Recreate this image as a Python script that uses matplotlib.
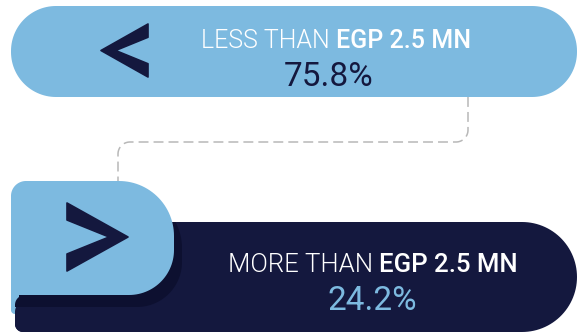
import numpy as np
import matplotlib
matplotlib.use("Agg")
import matplotlib.pyplot as plt
from matplotlib.patches import Polygon, Rectangle

# data
light_labels = ["LESS THAN", "MORE THAN"]
bold_labels = ["EGP 2.5 MN", "EGP 2.5 MN"]
shares = [75.8, 24.2]
symbols = ["<", ">"]

LIGHT = "#7DBAE0"
NAVY = "#14183E"
SHADOW = "#0D1030"
DASH = "#B8B8B8"
FONT = "Roboto"


def rounded_pts(x0, y0, x1, y1, r_tl=0, r_tr=0, r_br=0, r_bl=0, n=30):
    """ Outline of a box with separate corner radii (y grows downward). """
    pts = []
    corners = [((x0 + r_tl, y0 + r_tl), r_tl, 180, 270),
               ((x1 - r_tr, y0 + r_tr), r_tr, 270, 360),
               ((x1 - r_br, y1 - r_br), r_br, 0, 90),
               ((x0 + r_bl, y1 - r_bl), r_bl, 90, 180)]
    for (cx, cy), r, a0, a1 in corners:
        t = np.radians(np.linspace(a0, a1, n))
        pts.extend(zip(cx + r * np.cos(t), cy + r * np.sin(t)))
    return np.array(pts)


def add_shape(ax, pts, color, z, clip=None):
    p = Polygon(pts, closed=True, facecolor=color, edgecolor="none", zorder=z)
    ax.add_patch(p)
    if clip is not None:
        p.set_clip_path(clip)
    return p


def chevron(ax, x0, y0, x1, y1, pointing, color, z):
    """ Chevron glyph made of a polygon, tip on the left for '<'. """
    w = x1 - x0
    h = y1 - y0
    cut = 0.25 * h
    inner = 0.31 * w
    yc = (y0 + y1) / 2
    if pointing == "<":
        pts = [(x1, y0), (x1, y0 + cut), (x0 + inner, yc), (x1, y1 - cut), (x1, y1), (x0, yc)]
    else:
        pts = [(x0, y0), (x0, y0 + cut), (x1 - inner, yc), (x0, y1 - cut), (x0, y1), (x1, yc)]
    ax.add_patch(Polygon(pts, closed=True, facecolor=color, edgecolor=color, lw=1.2,
                         joinstyle="round", zorder=z))


def mixed_label(fig, ax, cx, y, light, bold, size, color):
    r = fig.canvas.get_renderer()
    t1 = ax.text(0, y, light, fontsize=size, family=FONT, fontweight=300, color=color,
                 va="baseline", ha="left", zorder=10)
    t2 = ax.text(0, y, bold, fontsize=size, family=FONT, fontweight=500, color=color,
                 va="baseline", ha="left", zorder=10)
    w1 = t1.get_window_extent(r).width
    w2 = t2.get_window_extent(r).width
    gap = size * 0.22 * fig.dpi / 72
    left = cx - (w1 + gap + w2) / 2
    t1.set_x(left)
    t2.set_x(left + w1 + gap)


fig = plt.figure(figsize=(5.78, 3.33), dpi=100)
ax = fig.add_axes([0, 0, 1, 1])
ax.set_xlim(0, 578)
ax.set_ylim(333, 0)
ax.axis("off")

# top pill
add_shape(ax, rounded_pts(11, 6, 577, 97, 45, 45, 45, 45), LIGHT, 2)
chevron(ax, 101, 24, 148, 77, symbols[0], NAVY, 5)

# dashed connector
r = 12
tt = np.radians(np.linspace(0, 90, 20))
xs = [468, 468] + list(468 - r + r * np.cos(tt)) + list(118 + r - r * np.sin(tt)) + [118]
ys = [97, 142 - r] + list(142 - r + r * np.sin(tt)) + list(142 + r - r * np.cos(tt)) + [181]
ax.plot(xs, ys, color=DASH, lw=1.1, dashes=(6.5, 3.3), zorder=1)

# bottom pill with tab
clip = Rectangle((0, 222), 578, 111, transform=ax.transData)
add_shape(ax, rounded_pts(15, 222, 577, 332, 0, 55, 55, 8), NAVY, 2)
add_shape(ax, rounded_pts(11, 270, 30, 314, 0, 0, 0, 4), LIGHT, 3)
add_shape(ax, rounded_pts(15, 300, 200, 332, 12, 0, 0, 8), NAVY, 4)
add_shape(ax, rounded_pts(19, 193, 182, 307, 0, 55, 45, 0), SHADOW, 5, clip=clip)
add_shape(ax, rounded_pts(15, 295, 60, 307, 10, 0, 0, 0), SHADOW, 5)
add_shape(ax, rounded_pts(11, 181, 174, 295, 15, 55, 45, 0), LIGHT, 6)
chevron(ax, 67, 203, 128, 271, symbols[1], NAVY, 7)

# texts
mixed_label(fig, ax, 336, 48, light_labels[0], bold_labels[0], 18, "white")
ax.text(329, 86, f"{shares[0]:.1f}%", fontsize=24, family=FONT, color=NAVY,
        ha="center", va="baseline", zorder=10)
mixed_label(fig, ax, 373, 272, light_labels[1], bold_labels[1], 18.5, "white")
ax.text(372, 310, f"{shares[1]:.1f}%", fontsize=24, family=FONT, color=LIGHT,
        ha="center", va="baseline", zorder=10)

fig.savefig("out.png", dpi=100)
